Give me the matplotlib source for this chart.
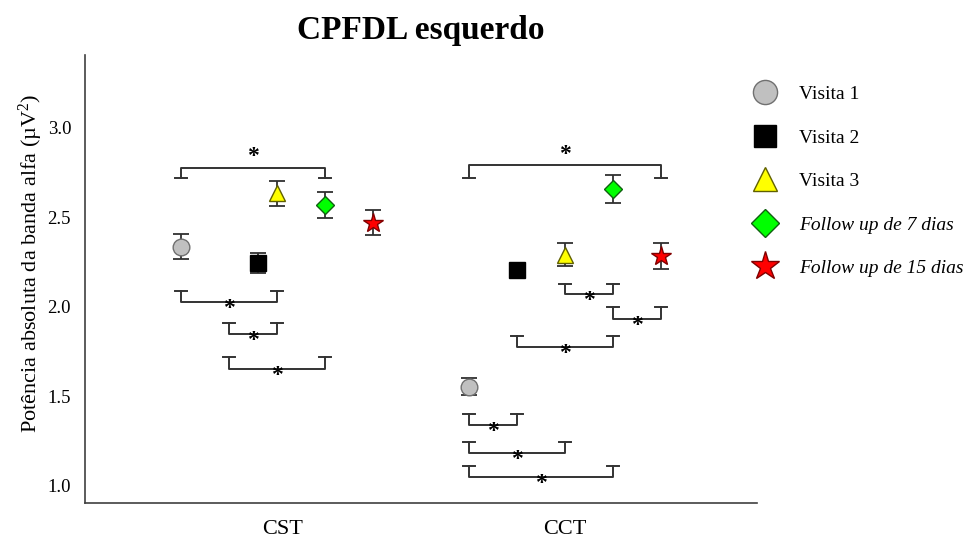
import numpy as np
import matplotlib
matplotlib.use('Agg')
from matplotlib import pyplot as plt
from matplotlib.lines import Line2D

plt.rcParams['font.family'] = ['Liberation Serif', 'DejaVu Serif']
plt.rcParams['mathtext.fontset'] = 'custom'
plt.rcParams['mathtext.rm'] = 'Liberation Serif'
plt.rcParams['mathtext.it'] = 'Liberation Serif:italic'

# dados
grupos = ['CST', 'CCT']
visitas = ['Visita 1', 'Visita 2', 'Visita 3', 'Follow up de 7 dias', 'Follow up de 15 dias']
cst_media = [2.335, 2.245, 2.635, 2.57, 2.47]
cst_erro = [0.07, 0.055, 0.07, 0.073, 0.07]
cct_media = [1.555, 2.207, 2.29, 2.66, 2.285]
cct_erro = [0.047, 0.0, 0.064, 0.078, 0.073]

# comparacoes significativas: (i, j, y da linha, y da ponta)
cst_comp = [(0, 3, 2.776, 2.72), (0, 2, 2.03, 2.09), (1, 2, 1.85, 1.91), (1, 3, 1.655, 1.72)]
cct_comp = [(0, 4, 2.79, 2.72), (2, 3, 2.07, 2.13), (3, 4, 1.93, 2.0), (1, 3, 1.777, 1.84),
            (0, 1, 1.34, 1.40), (0, 2, 1.185, 1.245), (0, 3, 1.05, 1.11)]

# estilos
offs = np.array([-1/3, -1/6, 0, 1/6, 1/3])
marcas = ['o', 's', '^', 'D', '*']
ms = [12, 11, 12, 9.5, 15]
faces = ['#c0c0c0', 'black', '#ffff00', '#00ff00', '#ff0000']
bordas = ['#707070', 'black', '#606000', '#106010', '#800000']

fig = plt.figure(figsize=(9.68, 5.44), dpi=100)
ax = fig.add_axes([0.0878, 0.0754, 0.694, 0.824])

centros = [1, 2]
medias = [cst_media, cct_media]
erros = [cst_erro, cct_erro]
for g in range(2):
    xs = centros[g] + offs
    if g == 0:
        xs = xs.copy()
        xs[1] = 0.934  # quadrado deslocado no grupo CST
    for k in range(5):
        ax.errorbar(xs[k], medias[g][k], yerr=erros[g][k], fmt='none', ecolor='#303030',
                    elinewidth=1.3, capsize=6, capthick=1.3, zorder=2)
        ax.plot(xs[k], medias[g][k], marker=marcas[k], ms=ms[k], mfc=faces[k],
                mec=bordas[k], mew=1, ls='none', zorder=3)

def colchete(x1, x2, yl, yp, acima):
    c = '#333333'
    ax.plot([x1, x1, x2, x2], [yp, yl, yl, yp], color=c, lw=1.4, zorder=1)
    for x in (x1, x2):
        ax.plot([x - 0.021, x + 0.021], [yp, yp], color=c, lw=1.4, zorder=1)
    xm = (x1 + x2) / 2
    if acima:
        ax.text(xm, yl + 0.005, '*', ha='center', va='bottom', fontsize=17, fontweight='bold')
    else:
        ax.text(xm, yl - 0.095, '*', ha='center', va='bottom', fontsize=17, fontweight='bold')

for g, comps in enumerate([cst_comp, cct_comp]):
    for i, j, yl, yp in comps:
        colchete(centros[g] + offs[i], centros[g] + offs[j], yl, yp, yp < yl)

ax.set_xlim(1/3, 8/3)
ax.set_ylim(0.905, 3.408)
ax.set_yticks([1.0, 1.5, 2.0, 2.5, 3.0])
ax.set_yticklabels(['1.0', '1.5', '2.0', '2.5', '3.0'], fontsize=13.5)
ax.set_xticks([1.02, 2.0])
ax.set_xticklabels(grupos, fontsize=16)
ax.tick_params(axis='y', length=0, pad=10)
ax.tick_params(axis='x', length=0, pad=12)
ax.spines['top'].set_visible(False)
ax.spines['right'].set_visible(False)
for s in ['left', 'bottom']:
    ax.spines[s].set_color('#404040')
    ax.spines[s].set_linewidth(1.2)
ax.set_ylabel(r'Potência absoluta da banda alfa (µV$^2$)', fontsize=16)
ax.yaxis.set_label_coords(-0.06, 0.535)
ax.set_title('CPFDL esquerdo', fontsize=24, fontweight='bold', pad=11)

alcas = [Line2D([], [], marker=marcas[k], ms=ms[k] * 1.45, mfc=faces[k], mec=bordas[k],
                ls='none') for k in range(5)]
leg = fig.legend(alcas, visitas, loc='upper left', bbox_to_anchor=(0.752, 0.875),
                 frameon=False, fontsize=14, labelspacing=1.33, handletextpad=0.75)
leg.get_texts()[3].set_style('italic')
leg.get_texts()[4].set_style('italic')

fig.savefig('out.png', dpi=100)
